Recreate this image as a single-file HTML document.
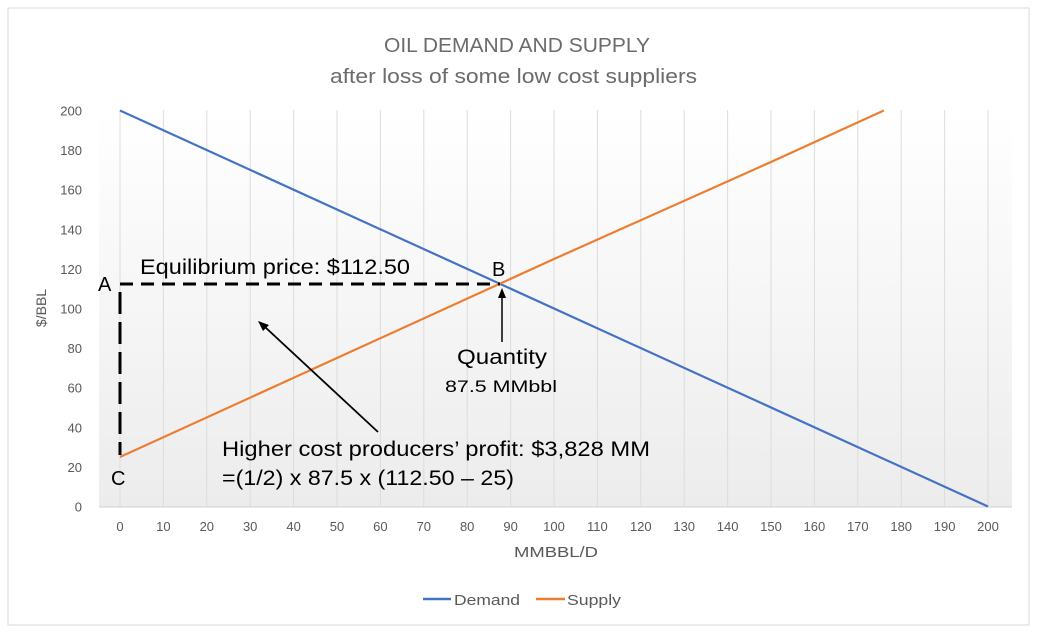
<!DOCTYPE html>
<html><head><meta charset="utf-8"><style>
body{margin:0;background:#fff;}
svg{display:block;font-family:"Liberation Sans",sans-serif;}
</style></head><body>
<svg id="chart" width="1044" height="638" viewBox="0 0 1044 638">
<defs><linearGradient id="bg" x1="0" y1="0" x2="0" y2="1"><stop offset="0" stop-color="#ffffff"/><stop offset="1" stop-color="#ececec"/></linearGradient></defs>
<rect x="8" y="8" width="1021" height="617" fill="#fff" stroke="#d9d9d9"/>
<rect x="99" y="110" width="913" height="397" fill="url(#bg)"/>
<g id="grid"></g><g id="ticks"></g><g id="series"></g>
<text x="384" y="52" textLength="266" lengthAdjust="spacingAndGlyphs" font-size="20" fill="#6b6b6b">OIL DEMAND AND SUPPLY</text>
<text x="330" y="83" textLength="367" lengthAdjust="spacingAndGlyphs" font-size="20" fill="#6b6b6b">after loss of some low cost suppliers</text>
<text x="514" y="557" textLength="84" lengthAdjust="spacingAndGlyphs" font-size="15" fill="#595959">MMBBL/D</text>
<text transform="translate(46,308) rotate(-90)" text-anchor="middle" font-size="14" fill="#595959">$/BBL</text>
<g>
<line x1="120" y1="284" x2="500" y2="284" stroke="#000" stroke-width="3" stroke-dasharray="13,8"/>
<line x1="120" y1="292" x2="120" y2="455" stroke="#000" stroke-width="3" stroke-dasharray="22,8"/>
<text x="98" y="291" font-size="20">A</text>
<text x="111" y="485" font-size="20">C</text>
<text x="492" y="276" font-size="20">B</text>
<text x="140" y="274" textLength="270" lengthAdjust="spacingAndGlyphs" font-size="21">Equilibrium price: $112.50</text>
<line x1="502" y1="342" x2="502" y2="296" stroke="#000" stroke-width="1.5"/>
<polygon points="502,288 498,298 506,298" fill="#000"/>
<text x="457" y="364" textLength="90" lengthAdjust="spacingAndGlyphs" font-size="21">Quantity</text>
<text x="445" y="392" textLength="112" lengthAdjust="spacingAndGlyphs" font-size="17">87.5 MMbbl</text>
<line x1="378" y1="432" x2="265" y2="327" stroke="#000" stroke-width="1.8"/>
<polygon points="258,321 269,325 263,331" fill="#000"/>
<text x="222" y="456" textLength="428" lengthAdjust="spacingAndGlyphs" font-size="21">Higher cost producers’ profit: $3,828 MM</text>
<text x="222" y="485" textLength="292" lengthAdjust="spacingAndGlyphs" font-size="21">=(1/2) x 87.5 x (112.50 – 25)</text>
</g>
<g>
<line x1="423" y1="599" x2="451" y2="599" stroke="#4472c4" stroke-width="2.5"/>
<text x="454" y="605" textLength="66" lengthAdjust="spacingAndGlyphs" font-size="15" fill="#595959">Demand</text>
<line x1="536" y1="599" x2="565" y2="599" stroke="#ed7d31" stroke-width="2.5"/>
<text x="567" y="605" textLength="54" lengthAdjust="spacingAndGlyphs" font-size="15" fill="#595959">Supply</text>
</g>
</svg>
<script>
const xTicks=[0,10,20,30,40,50,60,70,80,90,100,110,120,130,140,150,160,170,180,190,200];
const yTicks=[0,20,40,60,80,100,120,140,160,180,200];
const demandX=[0,200];
const demandY=[200,0];
const supplyX=[0,50,87.5,100,150,176];
const supplyY=[25,75,112.5,125,174,200];
const NS='http://www.w3.org/2000/svg';
const sx=v=>120+v*4.34, sy=v=>506.5-v*1.98;
function mk(t,a,p){const e=document.createElementNS(NS,t);for(const k in a)e.setAttribute(k,a[k]);p.appendChild(e);return e;}
const g=document.getElementById('grid'),tk=document.getElementById('ticks'),s=document.getElementById('series');
xTicks.forEach(v=>{
 const l=mk('line',{x1:sx(v),x2:sx(v),y1:110,y2:507,stroke:'#dcdcdc','stroke-width':1},g);
 
 
 const t=mk('text',{x:sx(v),y:531,'text-anchor':'middle','font-size':13,fill:'#595959'},tk);
 t.textContent=v;
 
 
});
yTicks.forEach(v=>{
 const t=mk('text',{x:82,y:sy(v)+5,'text-anchor':'end','font-size':13,fill:'#595959'},tk);
 t.textContent=v;
 
 
});
const ax=mk('line',{x1:99,x2:1012,y1:507,y2:507,stroke:'#d0d0d0'},g);


const d=mk('polyline',{points:demandX.map((x,i)=>sx(x)+','+sy(demandY[i])).join(' '),fill:'none',stroke:'#4472c4','stroke-width':2.2},s);


const su=mk('polyline',{points:supplyX.map((x,i)=>sx(x)+','+sy(supplyY[i])).join(' '),fill:'none',stroke:'#ed7d31','stroke-width':2.2},s);


</script>
</body></html>
